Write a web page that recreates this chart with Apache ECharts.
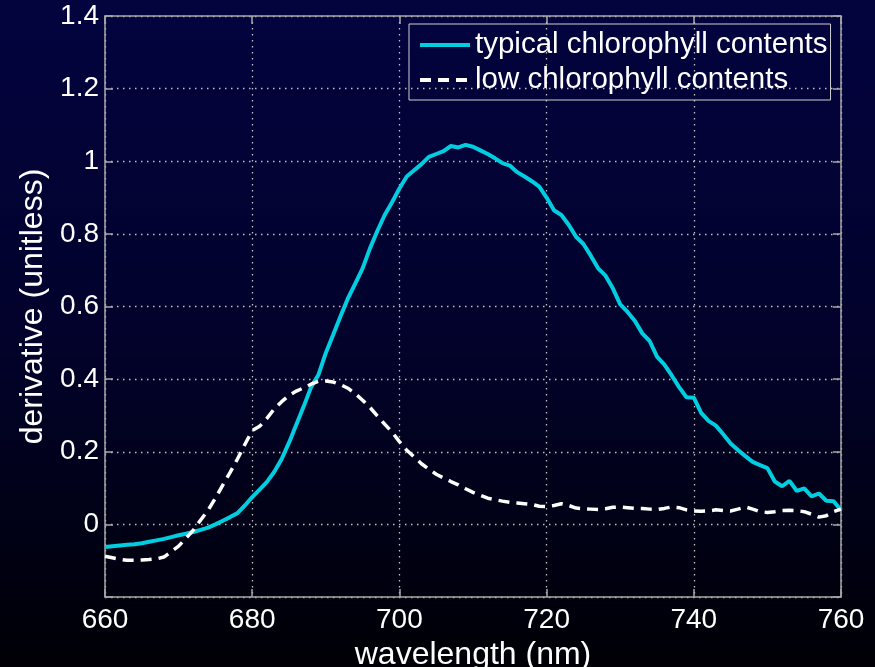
<!DOCTYPE html>
<html>
<head>
<meta charset="utf-8">
<script src="https://cdn.jsdelivr.net/npm/echarts@6/dist/echarts.min.js"></script>
<style>
html,body{margin:0;padding:0;background:#000;}
#chart{width:875px;height:667px;}
</style>
</head>
<body>
<div id="chart"></div>
<script>
const wavelengths = [660,661,662,663,664,665,666,667,668,669,670,671,672,673,674,675,676,677,678,679,
680,681,682,683,684,685,686,687,688,689,690,691,692,693,694,695,696,697,698,699,
700,701,702,703,704,705,706,707,708,709,710,711,712,713,714,715,716,717,718,719,
720,721,722,723,724,725,726,727,728,729,730,731,732,733,734,735,736,737,738,739,
740,741,742,743,744,745,746,747,748,749,750,751,752,753,754,755,756,757,758,759,760];

const typical = [-0.062,-0.060,-0.058,-0.056,-0.055,-0.052,-0.048,-0.044,-0.040,-0.035,
-0.030,-0.026,-0.021,-0.015,-0.009,0.000,0.010,0.020,0.031,0.052,
0.075,0.096,0.117,0.145,0.180,0.225,0.275,0.325,0.378,0.412,
0.472,0.522,0.573,0.622,0.663,0.705,0.760,0.808,0.852,0.887,
0.925,0.958,0.975,0.992,1.012,1.020,1.028,1.042,1.038,1.045,
1.040,1.030,1.020,1.008,0.995,0.988,0.970,0.958,0.945,0.930,
0.900,0.865,0.852,0.825,0.792,0.772,0.740,0.705,0.685,0.650,
0.606,0.585,0.560,0.526,0.505,0.462,0.440,0.410,0.378,0.350,
0.349,0.307,0.285,0.272,0.248,0.223,0.205,0.188,0.172,0.163,
0.155,0.118,0.105,0.120,0.092,0.099,0.077,0.085,0.065,0.064,0.039];

const low = [-0.088,-0.092,-0.096,-0.099,-0.099,-0.098,-0.097,-0.095,-0.090,-0.075,
-0.060,-0.038,-0.016,0.012,0.039,0.072,0.108,0.143,0.180,0.220,
0.258,0.270,0.292,0.318,0.338,0.355,0.367,0.376,0.386,0.394,
0.395,0.392,0.385,0.375,0.360,0.342,0.322,0.299,0.276,0.254,
0.228,0.204,0.186,0.167,0.152,0.138,0.128,0.118,0.109,0.098,
0.088,0.080,0.072,0.068,0.064,0.061,0.059,0.057,0.055,0.050,
0.049,0.052,0.057,0.052,0.045,0.043,0.042,0.041,0.043,0.047,
0.048,0.046,0.044,0.044,0.042,0.041,0.044,0.048,0.046,0.040,
0.037,0.036,0.037,0.040,0.038,0.037,0.042,0.048,0.042,0.035,
0.033,0.035,0.038,0.039,0.038,0.035,0.028,0.020,0.024,0.035,0.042];

const xTicks = {min:660, max:760, interval:20};
const yTicks = {min:-0.2, max:1.4, interval:0.2};
const seriesNames = ['typical chlorophyll contents','low chlorophyll contents'];
const xTitle = 'wavelength (nm)';
const yTitle = 'derivative (unitless)';

const FONT = '"Liberation Sans", Arial, Helvetica, sans-serif';
const AX = '#a8a8a8';
const GRIDC = '#c0c0c0';

const chart = echarts.init(document.getElementById('chart'), null, {renderer:'canvas'});

function pairs(ys){ return wavelengths.map((w,i)=>[w, ys[i]]); }

const option = {
  animation:false,
  backgroundColor:{
    type:'linear', x:0, y:0, x2:0, y2:1,
    colorStops:[
      {offset:0, color:'#03033f'},
      {offset:0.5, color:'#02022c'},
      {offset:1, color:'#000006'}
    ]
  },
  textStyle:{fontFamily:FONT},
  grid:{left:105, right:34, top:16, bottom:70, containLabel:false, outerBoundsMode:'none', show:false},
  legend:{
    orient:'vertical',
    left:409, top:24,
    padding:[5,3,4,9],
    itemGap:3,
    itemWidth:50, itemHeight:14,
    backgroundColor:'rgba(0,0,0,0)',
    borderColor:'#d0d0d0', borderWidth:1,
    itemStyle:{opacity:0},
    lineStyle:{width:4},
    textStyle:{color:'#ffffff', fontSize:29.5, lineHeight:32, fontFamily:FONT},
    data:seriesNames
  },
  xAxis:[{
    type:'value', position:'bottom',
    min:xTicks.min, max:xTicks.max, interval:xTicks.interval,
    name:xTitle, nameLocation:'middle', nameGap:36,
    nameTextStyle:{color:'#ffffff', fontSize:32, fontFamily:FONT},
    axisLine:{show:true, onZero:false, lineStyle:{color:AX, width:1.5}},
    axisTick:{show:true, inside:true, length:8, lineStyle:{color:AX, width:1.5}},
    axisLabel:{color:'#ffffff', fontSize:28, margin:9, fontFamily:FONT},
    splitLine:{show:true, lineStyle:{color:GRIDC, width:1.3, type:[1.5,4.5]}}
  },{
    type:'value', position:'top',
    min:xTicks.min, max:xTicks.max, interval:xTicks.interval,
    axisLine:{show:true, onZero:false, lineStyle:{color:AX, width:1.5}},
    axisTick:{show:true, inside:true, length:8, lineStyle:{color:AX, width:1.5}},
    axisLabel:{show:false}, splitLine:{show:false}
  }],
  yAxis:[{
    type:'value', position:'left',
    min:yTicks.min, max:yTicks.max, interval:yTicks.interval,
    name:yTitle, nameLocation:'middle', nameGap:52, nameRotate:90,
    nameTextStyle:{color:'#ffffff', fontSize:32, fontFamily:FONT},
    axisLine:{show:true, onZero:false, lineStyle:{color:AX, width:1.5}},
    axisTick:{show:true, inside:true, length:8, lineStyle:{color:AX, width:1.5}},
    axisLabel:{color:'#ffffff', fontSize:28, margin:6, fontFamily:FONT,
      formatter:function(v){ if(v < -0.01) return ''; return String(Math.round(v*10)/10); }},
    splitLine:{show:true, lineStyle:{color:GRIDC, width:1.3, type:[1.5,4.5]}}
  },{
    type:'value', position:'right',
    min:yTicks.min, max:yTicks.max, interval:yTicks.interval,
    axisLine:{show:true, onZero:false, lineStyle:{color:AX, width:1.5}},
    axisTick:{show:true, inside:true, length:8, lineStyle:{color:AX, width:1.5}},
    axisLabel:{show:false}, splitLine:{show:false}
  }],
  series:[{
    name:seriesNames[0], type:'line', xAxisIndex:0, yAxisIndex:0,
    data:pairs(typical), showSymbol:false, symbol:'none',
    lineStyle:{color:'#00cde0', width:4},
    itemStyle:{color:'#00cde0'}
  },{
    name:seriesNames[1], type:'line', xAxisIndex:0, yAxisIndex:0,
    data:pairs(low), showSymbol:false, symbol:'none',
    lineStyle:{color:'#ffffff', width:3.5, type:[11,7]},
    itemStyle:{color:'#ffffff'}
  }]
};
chart.setOption(option);
</script>
</body>
</html>
